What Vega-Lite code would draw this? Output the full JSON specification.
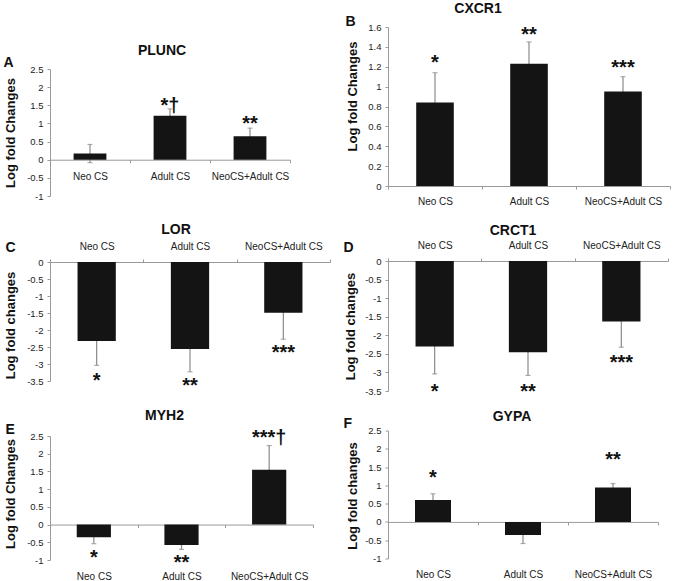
{
  "$schema": "https://vega.github.io/schema/vega-lite/v6.json",
  "padding": {"left": 3, "top": 1, "right": 0, "bottom": 0},
  "background": "white",
  "spacing": 12,
  "config": {
    "view": {"stroke": null},
    "font": "Liberation Sans",
    "axis": {"domainColor": "#9a9a9a", "tickColor": "#9a9a9a", "labelColor": "#222", "labelFontSize": 9.5, "labelFont": "Liberation Sans", "titleFont": "Liberation Sans", "titleColor": "#111", "grid": false, "tickSize": 3, "labelPadding": 4, "labelOverlap": false},
    "axisX": {"labelFontSize": 10, "labelAngle": 0, "tickBand": "extent", "titleAngle": 0, "titleAlign": "left", "titleBaseline": "middle", "titleFontSize": 14, "titleFontWeight": "bold"},
    "axisY": {"titleAngle": -90, "titleAlign": "center", "titleBaseline": "middle", "titleFontSize": 13, "titleFontWeight": "bold", "labelExpr": "toString(datum.value)", "labelOverlap": false},
    "title": {"fontSize": 14, "fontWeight": "bold", "font": "Liberation Sans", "color": "#111", "anchor": "middle", "frame": "group"}
  },
  "datasets": {
    "d": [
      {"panel": "A", "group": "Neo CS", "value": 0.17, "lo": -0.08, "hi": 0.42, "sig": "", "sig_y": null},
      {"panel": "A", "group": "Adult CS", "value": 1.21, "lo": 1.02, "hi": 1.40, "sig": "*†", "sig_y": 1.63},
      {"panel": "A", "group": "NeoCS+Adult CS", "value": 0.65, "lo": 0.43, "hi": 0.87, "sig": "**", "sig_y": 1.13},
      {"panel": "B", "group": "Neo CS", "value": 0.84, "lo": 0.54, "hi": 1.14, "sig": "*", "sig_y": 1.29},
      {"panel": "B", "group": "Adult CS", "value": 1.23, "lo": 1.01, "hi": 1.45, "sig": "**", "sig_y": 1.57},
      {"panel": "B", "group": "NeoCS+Adult CS", "value": 0.95, "lo": 0.80, "hi": 1.10, "sig": "***", "sig_y": 1.24},
      {"panel": "C", "group": "Neo CS", "value": -2.32, "lo": -3.04, "hi": -1.60, "sig": "*", "sig_y": -3.34},
      {"panel": "C", "group": "Adult CS", "value": -2.56, "lo": -3.23, "hi": -1.89, "sig": "**", "sig_y": -3.51},
      {"panel": "C", "group": "NeoCS+Adult CS", "value": -1.49, "lo": -2.27, "hi": -0.71, "sig": "***", "sig_y": -2.53},
      {"panel": "D", "group": "Neo CS", "value": -2.30, "lo": -3.04, "hi": -1.56, "sig": "*", "sig_y": -3.38},
      {"panel": "D", "group": "Adult CS", "value": -2.46, "lo": -3.08, "hi": -1.84, "sig": "**", "sig_y": -3.39},
      {"panel": "D", "group": "NeoCS+Adult CS", "value": -1.63, "lo": -2.32, "hi": -0.94, "sig": "***", "sig_y": -2.61},
      {"panel": "E", "group": "Neo CS", "value": -0.36, "lo": -0.54, "hi": -0.18, "sig": "*", "sig_y": -0.80},
      {"panel": "E", "group": "Adult CS", "value": -0.58, "lo": -0.70, "hi": -0.46, "sig": "**", "sig_y": -0.94},
      {"panel": "E", "group": "NeoCS+Adult CS", "value": 1.55, "lo": 0.87, "hi": 2.23, "sig": "***†", "sig_y": 2.58},
      {"panel": "F", "group": "Neo CS", "value": 0.60, "lo": 0.43, "hi": 0.77, "sig": "*", "sig_y": 1.35},
      {"panel": "F", "group": "Adult CS", "value": -0.36, "lo": -0.59, "hi": -0.13, "sig": "", "sig_y": null},
      {"panel": "F", "group": "NeoCS+Adult CS", "value": 0.94, "lo": 0.83, "hi": 1.05, "sig": "**", "sig_y": 1.83}
    ]
  },
  "hconcat": [
    {
      "spacing": 15,
      "vconcat": [
        {"width": 1, "height": 1, "data": {"values": []}, "mark": "point"},
        {
          "spacing": 21,
          "vconcat": [
            {
              "width": 240, "height": 127,
              "data": {"name": "d"},
              "title": {"text": "PLUNC", "dx": -8, "offset": -2},
              "transform": [{"filter": "datum.panel === 'A'"}],
              "encoding": {"x": {"field": "group", "type": "nominal", "sort": ["Neo CS", "Adult CS", "NeoCS+Adult CS"], "scale": {"paddingInner": 0, "paddingOuter": 0},
                "axis": {"orient": "bottom", "offset": -36.29, "labelPadding": 9, "title": "A", "titleX": -47, "titleY": -97}}},
              "layer": [
                {"mark": {"type": "rule", "color": "#8a8a8a", "strokeWidth": 1.2}, "encoding": {"y": {"field": "lo", "type": "quantitative", "title": "Log fold Changes", "scale": {"domain": [-1, 2.5]}, "axis": {"values": [-1, -0.5, 0, 0.5, 1, 1.5, 2, 2.5], "tickCount": 20, "labelOverlap": false, "titleX": -40, "titleY": 63.5}}, "y2": {"field": "hi"}}},
                {"mark": {"type": "tick", "color": "#8a8a8a", "size": 5, "thickness": 1.2}, "encoding": {"y": {"field": "lo", "type": "quantitative", "title": "Log fold Changes"}}},
                {"mark": {"type": "tick", "color": "#8a8a8a", "size": 5, "thickness": 1.2}, "encoding": {"y": {"field": "hi", "type": "quantitative", "title": "Log fold Changes"}}},
                {"mark": {"type": "bar", "color": "#141414", "width": {"band": 0.41}}, "encoding": {"y": {"field": "value", "type": "quantitative", "title": "Log fold Changes"}}},
                {"mark": {"type": "text", "fontSize": 20, "fontWeight": "bold", "baseline": "middle", "dy": 5, "color": "#111"}, "encoding": {"y": {"field": "sig_y", "type": "quantitative", "title": "Log fold Changes"}, "text": {"field": "sig"}}}
              ]
            },
            {
              "spacing": 11,
              "vconcat": [
                {
                  "width": 280, "height": 119,
                  "data": {"name": "d"},
                  "title": {"text": "LOR", "dx": -14, "offset": 4},
                  "transform": [{"filter": "datum.panel === 'C'"}],
                  "encoding": {"x": {"field": "group", "type": "nominal", "sort": ["Neo CS", "Adult CS", "NeoCS+Adult CS"], "scale": {"paddingInner": 0, "paddingOuter": 0},
                    "axis": {"orient": "top", "labelPadding": 8, "title": "C", "titleX": -45, "titleY": -14.5}}},
                  "layer": [
                    {"mark": {"type": "rule", "color": "#8a8a8a", "strokeWidth": 1.2}, "encoding": {"y": {"field": "lo", "type": "quantitative", "title": "Log fold changes", "scale": {"domain": [-3.5, 0]}, "axis": {"values": [-3.5, -3, -2.5, -2, -1.5, -1, -0.5, 0], "tickCount": 20, "labelOverlap": false, "titleX": -39.5, "titleY": 63}}, "y2": {"field": "hi"}}},
                    {"mark": {"type": "tick", "color": "#8a8a8a", "size": 5, "thickness": 1.2}, "encoding": {"y": {"field": "lo", "type": "quantitative", "title": "Log fold changes"}}},
                    {"mark": {"type": "bar", "color": "#141414", "width": {"band": 0.41}}, "encoding": {"y": {"field": "value", "type": "quantitative", "title": "Log fold changes"}}},
                    {"mark": {"type": "text", "fontSize": 20, "fontWeight": "bold", "baseline": "middle", "dy": 5, "color": "#111"}, "encoding": {"y": {"field": "sig_y", "type": "quantitative", "title": "Log fold changes"}, "text": {"field": "sig"}}}
                  ]
                },
                {
                  "width": 263, "height": 124,
                  "data": {"name": "d"},
                  "title": {"text": "MYH2", "dx": -17, "offset": 0},
                  "transform": [{"filter": "datum.panel === 'E'"}],
                  "encoding": {"x": {"field": "group", "type": "nominal", "sort": ["Neo CS", "Adult CS", "NeoCS+Adult CS"], "scale": {"paddingInner": 0, "paddingOuter": 0},
                    "axis": {"orient": "bottom", "offset": -35.43, "labelPadding": 44, "title": "E", "titleX": -45, "titleY": -95}}},
                  "layer": [
                    {"mark": {"type": "rule", "color": "#8a8a8a", "strokeWidth": 1.2}, "encoding": {"y": {"field": "lo", "type": "quantitative", "title": "Log fold Changes", "scale": {"domain": [-1, 2.5]}, "axis": {"values": [-1, -0.5, 0, 0.5, 1, 1.5, 2, 2.5], "tickCount": 20, "labelOverlap": false, "titleX": -39.5, "titleY": 57.5}}, "y2": {"field": "hi"}}},
                    {"mark": {"type": "tick", "color": "#8a8a8a", "size": 5, "thickness": 1.2}, "encoding": {"y": {"field": "lo", "type": "quantitative", "title": "Log fold Changes"}}},
                    {"mark": {"type": "tick", "color": "#8a8a8a", "size": 5, "thickness": 1.2}, "encoding": {"y": {"field": "hi", "type": "quantitative", "title": "Log fold Changes"}}},
                    {"mark": {"type": "bar", "color": "#141414", "width": {"band": 0.39}}, "encoding": {"y": {"field": "value", "type": "quantitative", "title": "Log fold Changes"}}},
                    {"mark": {"type": "text", "fontSize": 20, "fontWeight": "bold", "baseline": "middle", "dy": 5, "color": "#111"}, "encoding": {"y": {"field": "sig_y", "type": "quantitative", "title": "Log fold Changes"}, "text": {"field": "sig"}}}
                  ]
                }
              ]
            }
          ]
        }
      ]
    },
    {
      "spacing": 18,
      "vconcat": [
        {
          "width": 282, "height": 159,
          "data": {"name": "d"},
          "title": {"text": "CXCR1", "dx": -51, "offset": -1},
          "transform": [{"filter": "datum.panel === 'B'"}],
          "encoding": {"x": {"field": "group", "type": "nominal", "sort": ["Neo CS", "Adult CS", "NeoCS+Adult CS"], "scale": {"paddingInner": 0, "paddingOuter": 0},
            "axis": {"orient": "bottom", "labelPadding": 7, "title": "B", "titleX": -43, "titleY": -164.5}}},
          "layer": [
            {"mark": {"type": "rule", "color": "#8a8a8a", "strokeWidth": 1.2}, "encoding": {"y": {"field": "lo", "type": "quantitative", "title": "Log fold Changes", "scale": {"domain": [0, 1.6]}, "axis": {"values": [0, 0.2, 0.4, 0.6, 0.8, 1, 1.2, 1.4, 1.6], "tickCount": 20, "labelOverlap": false, "titleX": -36, "titleY": 69}}, "y2": {"field": "hi"}}},
            {"mark": {"type": "tick", "color": "#8a8a8a", "size": 5, "thickness": 1.2}, "encoding": {"y": {"field": "hi", "type": "quantitative", "title": "Log fold Changes"}}},
            {"mark": {"type": "bar", "color": "#141414", "width": {"band": 0.4}}, "encoding": {"y": {"field": "value", "type": "quantitative", "title": "Log fold Changes"}}},
            {"mark": {"type": "text", "fontSize": 20, "fontWeight": "bold", "baseline": "middle", "dy": 5, "color": "#111"}, "encoding": {"y": {"field": "sig_y", "type": "quantitative", "title": "Log fold Changes"}, "text": {"field": "sig"}}}
          ]
        },
        {
          "spacing": 7.5,
          "vconcat": [
            {
              "width": 280, "height": 130,
              "data": {"name": "d"},
              "title": {"text": "CRCT1", "dx": -15, "offset": 2},
              "transform": [{"filter": "datum.panel === 'D'"}],
              "encoding": {"x": {"field": "group", "type": "nominal", "sort": ["Neo CS", "Adult CS", "NeoCS+Adult CS"], "scale": {"paddingInner": 0, "paddingOuter": 0},
                "axis": {"orient": "top", "labelPadding": 8, "title": "D", "titleX": -45, "titleY": -13.5}}},
              "layer": [
                {"mark": {"type": "rule", "color": "#8a8a8a", "strokeWidth": 1.2}, "encoding": {"y": {"field": "lo", "type": "quantitative", "title": "Log fold changes", "scale": {"domain": [-3.5, 0]}, "axis": {"values": [-3.5, -3, -2.5, -2, -1.5, -1, -0.5, 0], "tickCount": 20, "labelOverlap": false, "titleX": -38, "titleY": 65}}, "y2": {"field": "hi"}}},
                {"mark": {"type": "tick", "color": "#8a8a8a", "size": 5, "thickness": 1.2}, "encoding": {"y": {"field": "lo", "type": "quantitative", "title": "Log fold changes"}}},
                {"mark": {"type": "bar", "color": "#141414", "width": {"band": 0.41}}, "encoding": {"y": {"field": "value", "type": "quantitative", "title": "Log fold changes"}}},
                {"mark": {"type": "text", "fontSize": 20, "fontWeight": "bold", "baseline": "middle", "dy": 5, "color": "#111"}, "encoding": {"y": {"field": "sig_y", "type": "quantitative", "title": "Log fold changes"}, "text": {"field": "sig"}}}
              ]
            },
            {
              "width": 270, "height": 128,
              "data": {"name": "d"},
              "title": {"text": "GYPA", "dx": -11, "offset": -7.5},
              "transform": [{"filter": "datum.panel === 'F'"}],
              "encoding": {"x": {"field": "group", "type": "nominal", "sort": ["Neo CS", "Adult CS", "NeoCS+Adult CS"], "scale": {"paddingInner": 0, "paddingOuter": 0},
                "axis": {"orient": "bottom", "offset": -36.57, "labelPadding": 45, "title": "F", "titleX": -45, "titleY": -98}}},
              "layer": [
                {"mark": {"type": "rule", "color": "#8a8a8a", "strokeWidth": 1.2}, "encoding": {"y": {"field": "lo", "type": "quantitative", "title": "Log fold changes", "scale": {"domain": [-1, 2.5]}, "axis": {"values": [-1, -0.5, 0, 0.5, 1, 1.5, 2, 2.5], "tickCount": 20, "labelOverlap": false, "titleX": -36, "titleY": 65}}, "y2": {"field": "hi"}}},
                {"mark": {"type": "tick", "color": "#8a8a8a", "size": 5, "thickness": 1.2}, "encoding": {"y": {"field": "lo", "type": "quantitative", "title": "Log fold changes"}}},
                {"mark": {"type": "tick", "color": "#8a8a8a", "size": 5, "thickness": 1.2}, "encoding": {"y": {"field": "hi", "type": "quantitative", "title": "Log fold changes"}}},
                {"mark": {"type": "bar", "color": "#141414", "width": {"band": 0.4}}, "encoding": {"y": {"field": "value", "type": "quantitative", "title": "Log fold changes"}}},
                {"mark": {"type": "text", "fontSize": 20, "fontWeight": "bold", "baseline": "middle", "dy": 5, "color": "#111"}, "encoding": {"y": {"field": "sig_y", "type": "quantitative", "title": "Log fold changes"}, "text": {"field": "sig"}}}
              ]
            }
          ]
        }
      ]
    }
  ]
}
